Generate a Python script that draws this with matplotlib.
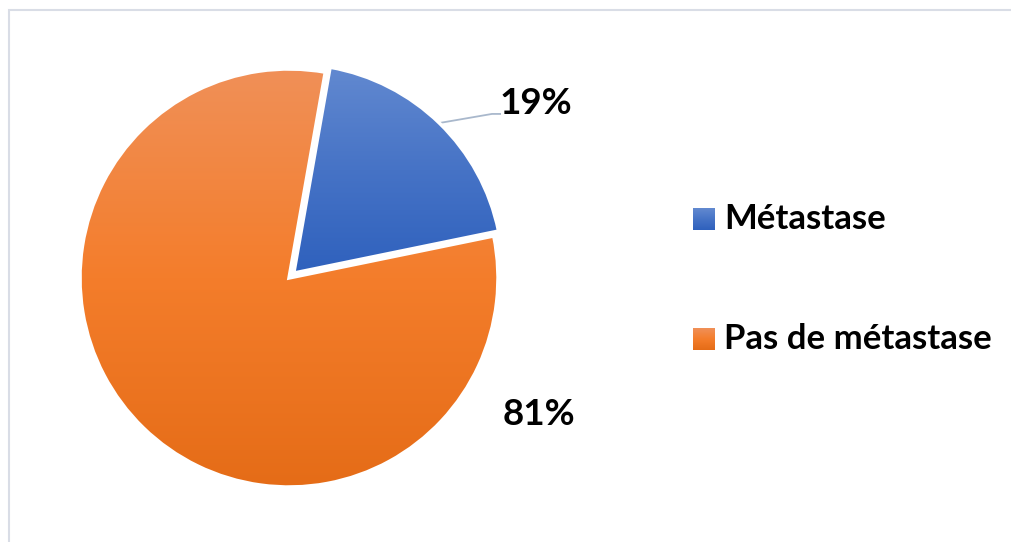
import numpy as np
import matplotlib
matplotlib.use("Agg")
import matplotlib.pyplot as plt
from matplotlib.patches import Rectangle
from matplotlib.colors import LinearSegmentedColormap

# Data
categories = ["Métastase", "Pas de métastase"]
values = [19, 81]
pct_labels = [f"{v}%" for v in values]

# Gradient colour stops (top, middle, bottom) per slice
grad_stops = [
    ["#6289d0", "#4673c6", "#2f61bd"],
    ["#f09058", "#f47d2b", "#e56c17"],
]

W, H, DPI = 1011, 542, 100
fig = plt.figure(figsize=(W / DPI, H / DPI), dpi=DPI)
fig.patch.set_facecolor("white")

# Chart area border (top and left edges visible)
fig.add_artist(Rectangle((9 / W, -0.05), 1.1, (H - 10) / H + 0.05,
                         transform=fig.transFigure, fill=False,
                         edgecolor="#d9dde6", linewidth=1.5))


def grad_cmap(stops):
    return LinearSegmentedColormap.from_list("g", stops[::-1])


R = 209
cx, cy = 289, H - 278
ax = fig.add_axes([(cx - R) / W, (cy - R) / H, 2 * R / W, 2 * R / H])
wedges, _ = ax.pie(values, startangle=80, counterclock=False,
                   explode=[0.033, 0.0], radius=1.0,
                   wedgeprops=dict(edgecolor="white", linewidth=2.5))
ax.set_aspect("auto")
ax.axis("off")

# Vertical gradient fills clipped to each wedge
for w, stops in zip(wedges, grad_stops):
    w.set_facecolor("none")
    verts = w.get_patch_transform().transform(w.get_path().vertices)
    x0, x1 = verts[:, 0].min(), verts[:, 0].max()
    y0, y1 = verts[:, 1].min(), verts[:, 1].max()
    grad = np.linspace(0, 1, 256).reshape(-1, 1)
    im = ax.imshow(grad, cmap=grad_cmap(stops), extent=[x0, x1, y0, y1],
                   origin="lower", aspect="auto", zorder=1,
                   interpolation="bilinear")
    im.set_clip_path(w)
    w.set_zorder(2)
ax.set_xlim(-1, 1)
ax.set_ylim(-1, 1)

font = ["Lato", "DejaVu Sans"]

# Percentage labels
lbl_pos = [(1.18, 0.837), (1.196, -0.651)]
for (lx, ly), txt in zip(lbl_pos, pct_labels):
    ax.text(lx, ly, txt, ha="center", va="center", fontsize=26.5,
            fontweight="bold", family=font, color="black", clip_on=False)

# Leader line for the small slice
ax.plot([0.722, 0.971, 1.01], [0.742, 0.785, 0.785], color="#a9b8cc",
        linewidth=1.3, clip_on=False, zorder=0)

# Legend with gradient swatches
leg_y = [H - 219, H - 339]
for yy, name, stops in zip(leg_y, categories, grad_stops):
    sw = fig.add_axes([693 / W, (yy - 11) / H, 22 / W, 22 / H])
    sw.imshow(np.linspace(0, 1, 64).reshape(-1, 1), cmap=grad_cmap(stops),
              origin="lower", aspect="auto")
    sw.axis("off")
    fig.text(724 / W, yy / H, name, ha="left", va="center", fontsize=25,
             fontweight="bold", family=font, color="black")

fig.savefig("out.png", dpi=DPI)
